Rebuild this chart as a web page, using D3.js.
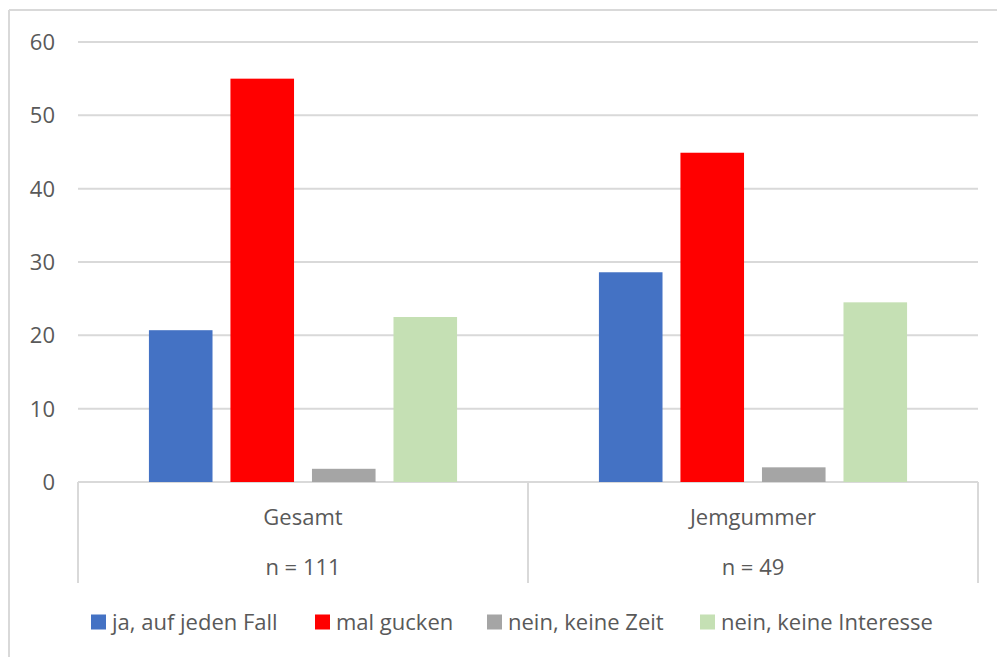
<!DOCTYPE html>
<html>
<head>
<meta charset="utf-8">
<script src="https://cdn.jsdelivr.net/npm/d3@7"></script>
<style>
  body { margin: 0; background: #fff; }
  svg { display: block; font-family: "Open Sans", "Noto Sans", sans-serif; }
</style>
</head>
<body>
<div id="chart"></div>
<script>
// Data
const groups = ["Gesamt", "Jemgummer"];
const groupN = ["n = 111", "n = 49"];
const seriesNames = ["ja, auf jeden Fall", "mal gucken", "nein, keine Zeit", "nein, keine Interesse"];
const seriesColors = ["#4472c4", "#ff0000", "#a5a5a5", "#c5e0b4"];
const gesamtValues = [20.7, 55.0, 1.8, 22.5];
const jemgummerValues = [28.6, 44.9, 2.0, 24.5];
const yTicks = [0, 10, 20, 30, 40, 50, 60];

const width = 997;
const height = 657;
const plot = { left: 78, right: 978, top: 42, bottom: 482 };
const textColor = "#595959";
const lineColor = "#d9d9d9";
const fontSize = "22px";

const values = [gesamtValues, jemgummerValues];

const svg = d3.select("#chart")
    .append("svg")
    .attr("width", width)
    .attr("height", height);

// outer chart border (only top and left visible in the crop)
svg.append("line").attr("x1", 9).attr("x2", width).attr("y1", 10).attr("y2", 10)
    .attr("stroke", lineColor).attr("stroke-width", 2);
svg.append("line").attr("x1", 9).attr("x2", 9).attr("y1", 10).attr("y2", height)
    .attr("stroke", lineColor).attr("stroke-width", 2);

const y = d3.scaleLinear()
    .domain([0, 60])
    .range([plot.bottom, plot.top]);

const x0 = d3.scaleBand()
    .domain(groups)
    .range([plot.left, plot.right])
    .padding(0);

const x1 = d3.scaleBand()
    .domain(seriesNames)
    .range([0, x0.bandwidth()])
    .paddingInner(0.22)
    .paddingOuter(0.87);

// gridlines
svg.append("g")
    .selectAll("line")
    .data(yTicks)
    .enter()
    .append("line")
    .attr("x1", plot.left)
    .attr("x2", plot.right)
    .attr("y1", d => y(d))
    .attr("y2", d => y(d))
    .attr("stroke", lineColor)
    .attr("stroke-width", 2);

// y tick labels
svg.append("g")
    .selectAll("text")
    .data(yTicks)
    .enter()
    .append("text")
    .attr("x", 55)
    .attr("y", d => y(d))
    .attr("dy", "0.36em")
    .attr("text-anchor", "end")
    .attr("font-size", fontSize)
    .attr("fill", textColor)
    .text(d => d);

// bars
const groupG = svg.append("g")
    .selectAll("g")
    .data(groups)
    .enter()
    .append("g")
    .attr("transform", d => `translate(${x0(d)},0)`);

groupG.selectAll("rect")
    .data((g, gi) => seriesNames.map((s, si) => ({ s, v: values[gi][si], c: seriesColors[si] })))
    .enter()
    .append("rect")
    .attr("x", d => x1(d.s))
    .attr("y", d => y(d.v))
    .attr("width", x1.bandwidth())
    .attr("height", d => y(0) - y(d.v))
    .attr("fill", d => d.c);

// category axis box lines
const boundaries = [plot.left, ...groups.map(g => x0(g) + x0.bandwidth())];
svg.append("g")
    .selectAll("line")
    .data(boundaries)
    .enter()
    .append("line")
    .attr("x1", d => d)
    .attr("x2", d => d)
    .attr("y1", plot.bottom)
    .attr("y2", 583)
    .attr("stroke", lineColor)
    .attr("stroke-width", 2);

// category labels
groups.forEach((g, i) => {
    const cx = x0(g) + x0.bandwidth() / 2;
    svg.append("text")
        .attr("x", cx)
        .attr("y", 525)
        .attr("text-anchor", "middle")
        .attr("font-size", fontSize)
        .attr("fill", textColor)
        .text(g);
    svg.append("text")
        .attr("x", cx)
        .attr("y", 575)
        .attr("text-anchor", "middle")
        .attr("font-size", fontSize)
        .attr("fill", textColor)
        .text(groupN[i]);
});

// legend
const legendX = [91, 315, 487, 700];
const legend = svg.append("g")
    .selectAll("g")
    .data(seriesNames)
    .enter()
    .append("g")
    .attr("transform", (d, i) => `translate(${legendX[i]},622)`);

legend.append("rect")
    .attr("x", 0)
    .attr("y", -7.5)
    .attr("width", 15)
    .attr("height", 15)
    .attr("fill", (d, i) => seriesColors[i]);

legend.append("text")
    .attr("x", 21)
    .attr("y", 0)
    .attr("dy", "0.36em")
    .attr("font-size", fontSize)
    .attr("fill", textColor)
    .text(d => d);
</script>
</body>
</html>
